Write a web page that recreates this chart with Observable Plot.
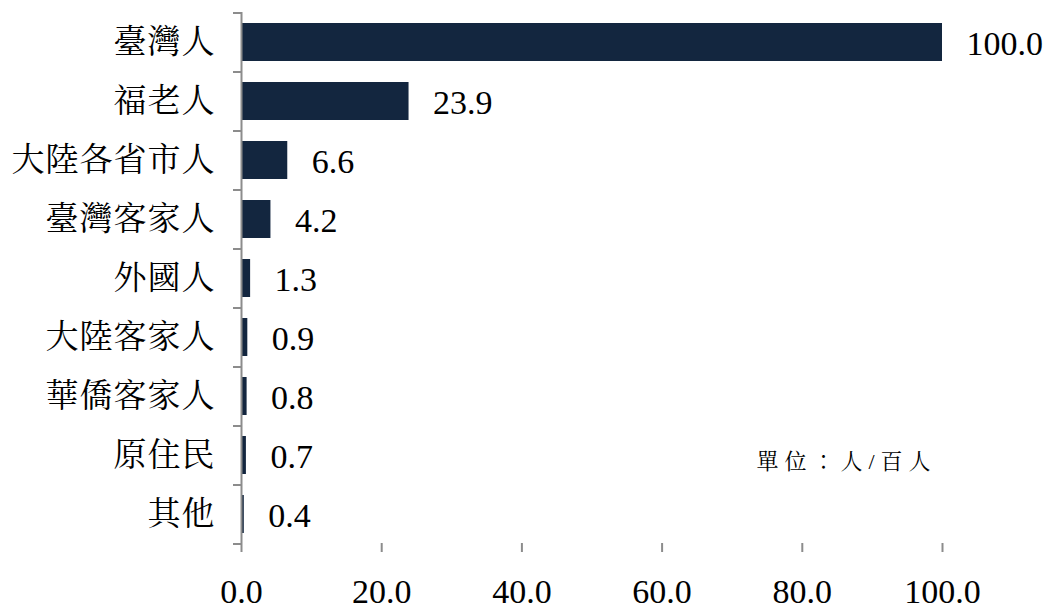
<!DOCTYPE html>
<html>
<head>
<meta charset="utf-8">
<script src="https://cdn.jsdelivr.net/npm/d3@7"></script>
<script src="https://cdn.jsdelivr.net/npm/@observablehq/plot@0.6"></script>
<style>
  html, body { margin: 0; padding: 0; background: #fff; }
  #chart svg { display: block; }
  #chart svg .unit-label text { letter-spacing: 6px; }
  #chart svg .cat-label text { letter-spacing: 1px; }
</style>
</head>
<body>
<div id="chart"></div>
<script>
const categories = ["臺灣人", "福老人", "大陸各省市人", "臺灣客家人", "外國人", "大陸客家人", "華僑客家人", "原住民", "其他"];
const values = [100.0, 23.9, 6.6, 4.2, 1.3, 0.9, 0.8, 0.7, 0.4];
const xTicks = [0, 20, 40, 60, 80, 100];
const unitLabel = "單位：人/百人";

const data = categories.map((c, i) => ({category: c, value: values[i]}));

const cjkFont = "Liberation Serif, Noto Serif CJK TC, Noto Sans CJK TC, serif";
const numFont = "Liberation Serif, Times New Roman, DejaVu Serif, serif";
const axisGray = "#8c8c8c";
const barColor = "#13263f";

const chart = Plot.plot({
  width: 1050,
  height: 613,
  marginLeft: 241,
  marginRight: 108,
  marginTop: 12,
  marginBottom: 70,
  style: {background: "#fff", color: "#000", fontFamily: numFont},
  x: {domain: [0, 100], ticks: xTicks, label: null},
  y: {domain: categories, paddingInner: 0.36, paddingOuter: 0.18, align: 0.5, label: null},
  marks: [
    Plot.barX(data, {x: "value", y: "category", fill: barColor}),
    Plot.text(data, {
      x: "value", y: "category", text: d => d.value.toFixed(1),
      textAnchor: "start", dx: 24, dy: 2, fontSize: 34, fontFamily: numFont, fill: "#000"
    }),
    // y tick marks at band boundaries
    Plot.axisY({tickSize: 8, tickFormat: () => "", stroke: axisGray, strokeWidth: 2, dy: -29.5, label: null}),
    Plot.axisY({tickSize: 8, tickFormat: () => "", stroke: axisGray, strokeWidth: 2, dy: 29.5, label: null}),
    // y labels
    Plot.axisY({tickSize: 0, tickPadding: 26, fontSize: 33, fontFamily: cjkFont, fill: "#000", label: null, className: "cat-label"}),
    Plot.ruleX([0], {stroke: axisGray, strokeWidth: 2}),
    Plot.ruleY([0], {y: () => 0, frameAnchor: "bottom", stroke: axisGray, strokeWidth: 2}),
    Plot.axisX({
      ticks: xTicks, tickSize: 9, tickPadding: 26, tickFormat: d => d.toFixed(1),
      stroke: axisGray, strokeWidth: 2, fontSize: 34, fontFamily: numFont, fill: "#000", label: null
    }),
    Plot.text([unitLabel], {
      frameAnchor: "bottom-right", dx: -6, dy: -75, textAnchor: "end",
      fontSize: 22, fontFamily: cjkFont, fill: "#000", className: "unit-label"
    })
  ]
});

document.getElementById("chart").appendChild(chart);
</script>
</body>
</html>
